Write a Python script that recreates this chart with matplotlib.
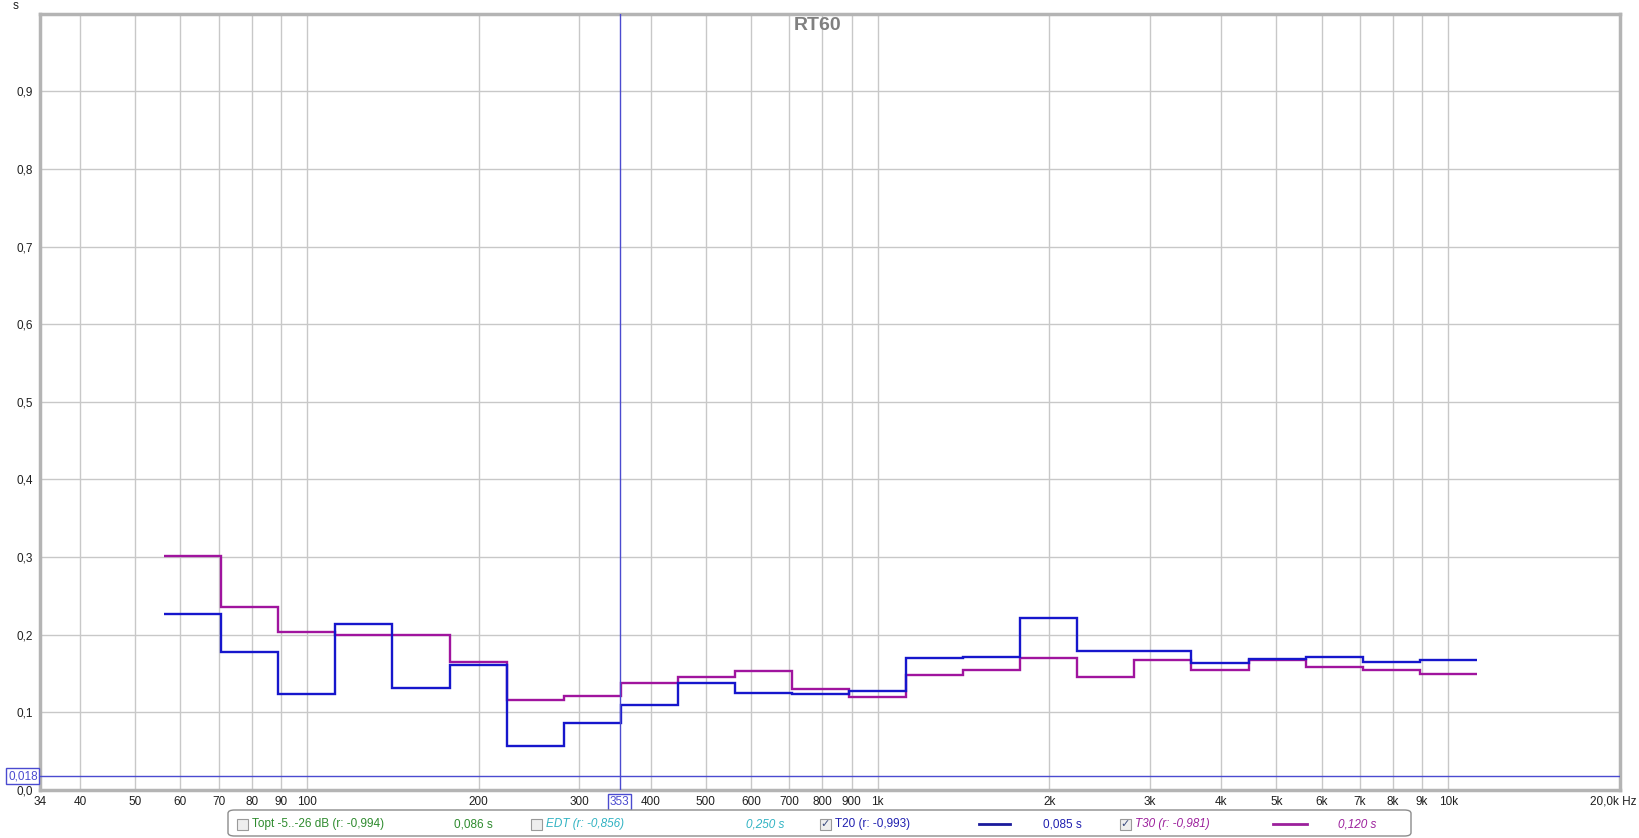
import numpy as np
import matplotlib
matplotlib.use("Agg")
import matplotlib.pyplot as plt
from matplotlib import font_manager
from matplotlib.patches import Rectangle, FancyBboxPatch
from matplotlib.lines import Line2D
from matplotlib.ticker import NullLocator
import matplotlib.transforms as mtransforms

# third-octave band edges (Hz), 63 Hz .. 10 kHz bands
band_edges = [56.2, 70.8, 89.1, 112, 141, 178, 224, 282, 355, 447, 562, 708,
              891, 1122, 1413, 1778, 2239, 2818, 3548, 4467, 5623, 7079, 8913, 11220]

# RT60 per band (s)
t20 = [0.227, 0.178, 0.124, 0.214, 0.131, 0.161, 0.057, 0.086, 0.110, 0.138, 0.125,
       0.124, 0.127, 0.170, 0.171, 0.221, 0.179, 0.179, 0.163, 0.169, 0.171, 0.165, 0.168]
t30 = [0.301, 0.236, 0.203, 0.199, 0.199, 0.165, 0.116, 0.121, 0.138, 0.146, 0.153,
       0.130, 0.120, 0.148, 0.155, 0.170, 0.146, 0.168, 0.155, 0.167, 0.158, 0.155, 0.149]

x_ticks = [34, 40, 50, 60, 70, 80, 90, 100, 200, 300, 400, 500, 600, 700, 800, 900,
           1000, 2000, 3000, 4000, 5000, 6000, 7000, 8000, 9000, 10000]
x_labels = ["34", "40", "50", "60", "70", "80", "90", "100", "200", "300", "400", "500",
            "600", "700", "800", "900", "1k", "2k", "3k", "4k", "5k", "6k", "7k", "8k",
            "9k", "10k"]
y_ticks = [0.0, 0.1, 0.2, 0.3, 0.4, 0.5, 0.6, 0.7, 0.8, 0.9]
y_labels = ["0,0", "0,1", "0,2", "0,3", "0,4", "0,5", "0,6", "0,7", "0,8", "0,9"]

cursor_x = 353
cursor_y = 0.018

names = {f.name for f in font_manager.fontManager.ttflist}
base = "Liberation Sans Narrow" if "Liberation Sans Narrow" in names else "Liberation Sans"
plt.rcParams["font.family"] = [base, "DejaVu Sans"]

W, H = 1639, 838
fig = plt.figure(figsize=(W / 100, H / 100), dpi=100)
fig.patch.set_facecolor("white")
ax = fig.add_axes([39.7 / W, 1 - 790 / H, (1620 - 39.7) / W, (790 - 13.6) / H])

blue = "#1616cc"
purple = "#a0149e"
cur = "#4b4bd0"

ax.stairs(t20, band_edges, baseline=None, color=blue, lw=1.7, zorder=4)
ax.stairs(t30, band_edges, baseline=None, color=purple, lw=1.7, zorder=3)

ax.axvline(cursor_x, color=cur, lw=1, zorder=5)
ax.axhline(cursor_y, color=cur, lw=1, zorder=5)

ax.set_xscale("log")
ax.set_xlim(34, 20000)
ax.set_ylim(0, 1.0)
ax.set_xticks(x_ticks)
ax.set_xticklabels(x_labels)
ax.xaxis.set_minor_locator(NullLocator())
ax.set_yticks(y_ticks)
ax.set_yticklabels(y_labels)
ax.tick_params(length=0, labelsize=8.5, colors="#202020", pad=4)
ax.tick_params(axis="y", pad=5)
ax.grid(True, color="#c8c8c8", lw=1, zorder=0)
for s in ax.spines.values():
    s.set_color("#b4b4b4")
    s.set_linewidth(2.5)

# cursor labels
trx = mtransforms.blended_transform_factory(ax.transData, ax.transAxes)
ax.text(cursor_x, -0.0155, "353", transform=trx, ha="center", va="center",
        fontsize=8.5, color=cur, zorder=6,
        bbox=dict(boxstyle="square,pad=0.15", fc="white", ec=cur, lw=1), clip_on=False)
try_ = mtransforms.blended_transform_factory(ax.transAxes, ax.transData)
ax.text(-0.0013, cursor_y, "0,018", transform=try_, ha="right", va="center",
        fontsize=8.5, color=cur, zorder=6,
        bbox=dict(boxstyle="square,pad=0.15", fc="white", ec=cur, lw=1), clip_on=False)

fig.text(16 / W, 1 - 6 / H, "s", ha="center", va="center", fontsize=8.5, color="#202020")
fig.text(1637 / W, 1 - 801 / H, "20,0k Hz", ha="right", va="center", fontsize=8.5,
         color="#202020")
fig.text(818 / W, 1 - 26 / H, "RT60", ha="center", va="center", fontsize=14,
         fontweight="bold", color="#808080", family=["Liberation Sans", "DejaVu Sans"])

# legend panel
fig.add_artist(FancyBboxPatch((228 / W, 1 - 836 / H), (1411 - 228) / W, 26 / H,
                              boxstyle="round,pad=0,rounding_size=0.004",
                              transform=fig.transFigure, fc="white", ec="#8c8c8c", lw=1))
ly = 1 - 824 / H


def checkbox(x, checked):
    fig.add_artist(Rectangle((x / W, ly - 5.5 / H), 11 / W, 11 / H, transform=fig.transFigure,
                             fc="#eeeeee", ec="#9a9a9a", lw=0.8))
    if checked:
        fig.text((x + 5.5) / W, ly, "\u2713", ha="center", va="center", fontsize=8,
                 color="#3c4c80", family=["DejaVu Sans"])


items = [
    (237, False, "Topt -5..-26 dB (r: -0,994)", 454, "0,086 s", "#2e8b2e", "normal", None),
    (531, False, "EDT (r: -0,856)", 746, "0,250 s", "#31b3c3", "italic", None),
    (820, True, "T20 (r: -0,993)", 1043, "0,085 s", "#2020b0", "normal", (979, 1010, "#1a1a9c")),
    (1120, True, "T30 (r: -0,981)", 1338, "0,120 s", "#9c209c", "italic", (1273, 1307, "#9c209c")),
]
for cx, chk, label, vx, val, col, sty, line in items:
    checkbox(cx, chk)
    fig.text((cx + 15) / W, ly, label, ha="left", va="center", fontsize=8.5, color=col,
             style=sty)
    fig.text(vx / W, ly, val, ha="left", va="center", fontsize=8.5, color=col, style=sty)
    if line:
        fig.add_artist(Line2D([line[0] / W, line[1] / W], [ly, ly], transform=fig.transFigure,
                              color=line[2], lw=2))

fig.savefig("out.png", dpi=100)
